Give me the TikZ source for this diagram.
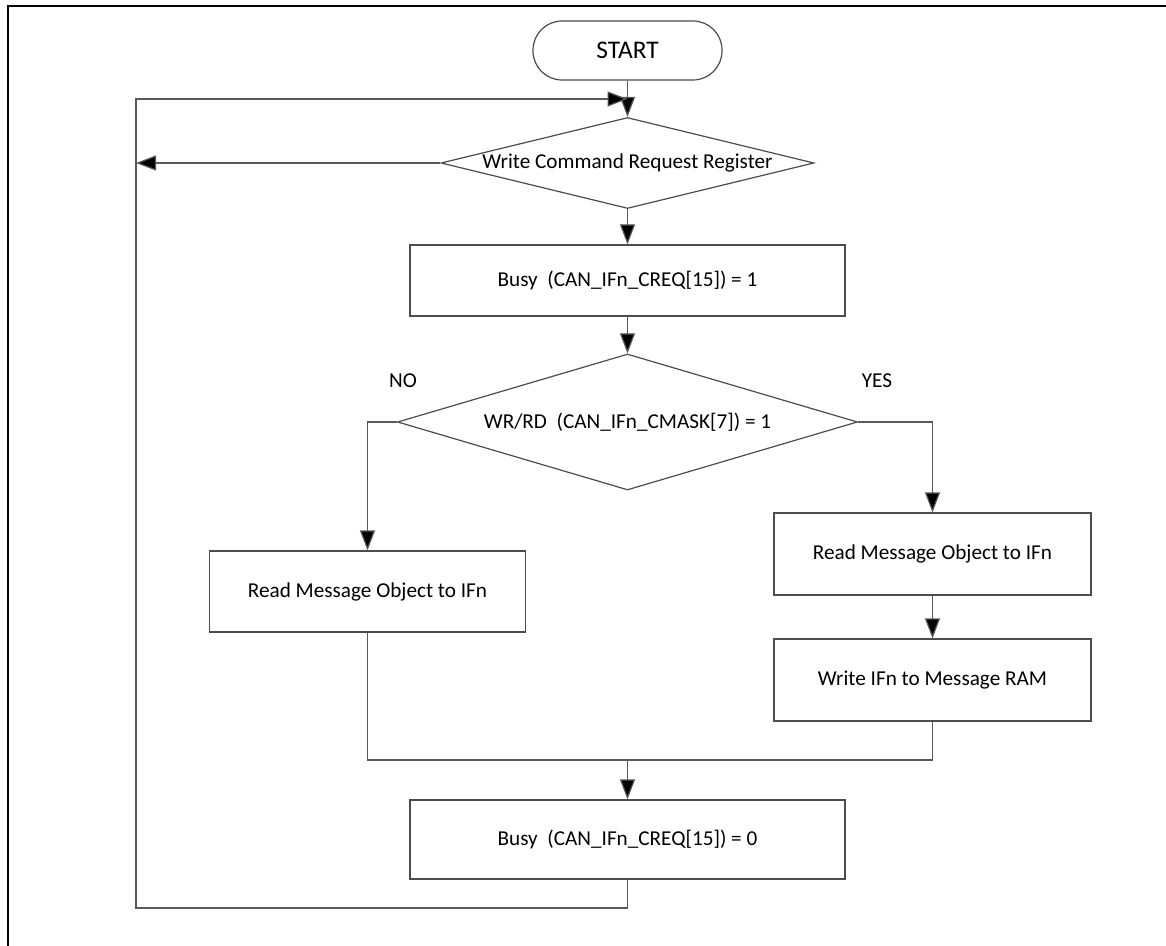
\documentclass[tikz,border=0pt]{standalone}
\usepackage{fontspec}
\setmainfont{Carlito}
\usetikzlibrary{positioning,arrows.meta,shapes.geometric,calc}

\begin{document}
\begin{tikzpicture}[x=0.5pt,y=-0.5pt,
    font=\fontsize{10.6}{13}\selectfont,
    line/.style={draw=black!65, line width=0.6pt},
    arr/.style={line, -{Triangle[length=10pt,width=7.5pt,fill=black]}},
    proc/.style={shape=rectangle, draw=black!70, line width=0.6pt, inner sep=0pt, minimum width=#1},
    proc/.default=217.5pt,
    decision/.style={shape=diamond, draw=black!70, line width=0.6pt, inner sep=0pt},
    terminal/.style={shape=rectangle, draw=black!70, line width=0.6pt, rounded corners=14.5pt,
        minimum width=94.5pt, minimum height=29.5pt, font=\fontsize{12.7}{15}\selectfont},
  ]
  \useasboundingbox (0,0) rectangle (1166,946);
  \draw[line width=1.3pt] (8,946) -- (8,6) -- (1166,6);

  \node[terminal] (start) at (627.5,50.5) {START};
  \node[decision, minimum width=186.5pt, minimum height=45.5pt] (wcrr) at (627.5,163) {\makebox[0pt]{Write Command Request Register}};
  \node[proc, minimum height=35.5pt] (busyset) at (627.5,280.5) {Busy~~(CAN\_IFn\_CREQ[15]) = 1};
  \node[decision, minimum width=230pt, minimum height=68pt] (wrrd) at (627.5,422) {\makebox[0pt]{WR/RD~~(CAN\_IFn\_CMASK[7]) = 1}};
  \node[proc=158pt, minimum height=40.5pt] (rdleft) at (367.5,591.5) {Read Message Object to IFn};
  \node[proc=158.5pt, minimum height=41pt] (rdright) at (932.5,554) {Read Message Object to IFn};
  \node[proc=158.5pt, minimum height=41pt] (wrram) at (932.5,680) {Write IFn to Message RAM};
  \node[proc, minimum height=39.5pt] (busyclr) at (627.5,839.5) {Busy~~(CAN\_IFn\_CREQ[15]) = 0};

  \node (no) at (403,381) {NO};
  \node (yes) at (877,381) {YES};

  \coordinate (join) at (627.5,760);
  \coordinate (loopbot) at (136,908);
  \coordinate (looptop) at (136,99);

  \draw[arr] (start) -- (wcrr);
  \draw[arr] (wcrr) -- (busyset);
  \draw[arr] (busyset) -- (wrrd);
  \draw[arr] (wrrd.west) -| (rdleft.north);
  \draw[arr] (wrrd.east) -| (rdright.north);
  \draw[arr] (rdright) -- (wrram);
  \draw[line] (rdleft.south) |- (join) -| (wrram.south);
  \draw[arr] (join) -- (busyclr);
  \draw[arr] (busyclr.south) |- (loopbot) -- (looptop) -- (looptop -| start.south);
  \draw[arr] (wcrr.west) -- (wcrr.west -| looptop);
\end{tikzpicture}
\end{document}
